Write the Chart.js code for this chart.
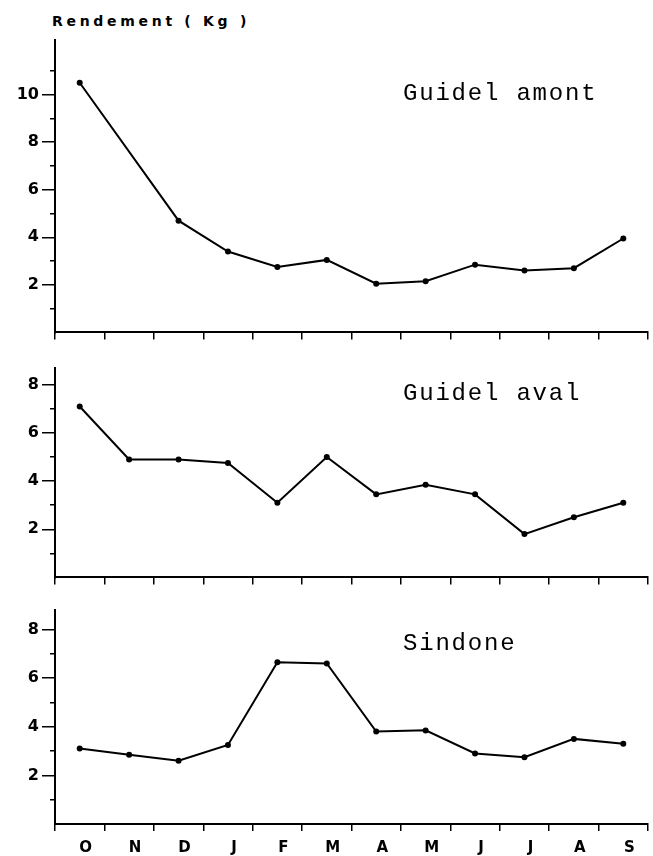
<!DOCTYPE html>
<html><head><meta charset="utf-8">
<script src="https://cdn.jsdelivr.net/npm/chart.js@4"></script>
<style>
body{margin:0;background:#fff;width:653px;height:856px;position:relative;overflow:hidden}
canvas{position:absolute;left:0}
.lbl{position:absolute;left:403px;font-family:"Courier New","Liberation Mono",monospace;font-size:24px;letter-spacing:1.8px;color:#000;white-space:nowrap;line-height:1}
#ylab{position:absolute;left:52px;top:14px;font-family:"DejaVu Sans",sans-serif;font-weight:bold;font-size:14px;letter-spacing:3.7px;line-height:1;color:#000;white-space:nowrap}
</style></head><body>
<div id="ylab">Rendement ( Kg )</div>
<canvas id="c1" width="653" height="345" style="top:0px;width:653px;height:345px"></canvas>
<canvas id="c2" width="653" height="240" style="top:350px;width:653px;height:240px"></canvas>
<canvas id="c3" width="653" height="261" style="top:595px;width:653px;height:261px"></canvas>
<div class="lbl" style="top:82px">Guidel amont</div>
<div class="lbl" style="top:382px">Guidel aval</div>
<div class="lbl" style="top:632px">Sindone</div>
<script>
const months = ['O','N','D','J','F','M','A','M','J','J','A','S'];
const guidelAmont = [10.5, null, 4.7, 3.4, 2.75, 3.05, 2.05, 2.15, 2.85, 2.6, 2.7, 3.95];
const guidelAval = [7.1, 4.9, 4.9, 4.75, 3.1, 5.0, 3.45, 3.85, 3.45, 1.8, 2.5, 3.1];
const sindone = [3.1, 2.85, 2.6, 3.25, 6.65, 6.6, 3.8, 3.85, 2.9, 2.75, 3.5, 3.3];
const majorTicksTop = [2, 4, 6, 8, 10];
const minorTicksTop = [1, 3, 5, 7, 9, 11];
const majorTicks = [2, 4, 6, 8];
const minorTicks = [1, 3, 5, 7];

const tickFont = {family: '"DejaVu Sans", sans-serif', weight: 'bold', size: 16};

function makeChart(id, data, yMax, major, minor, showX, padTop, xHeight) {
  new Chart(document.getElementById(id), {
    type: 'line',
    data: {
      labels: months,
      datasets: [{
        data: data,
        borderColor: '#000',
        borderWidth: 2,
        pointRadius: 3,
        pointBackgroundColor: '#000',
        pointBorderColor: '#000',
        pointBorderWidth: 0,
        tension: 0,
        spanGaps: true
      }]
    },
    options: {
      responsive: false,
      animation: false,
      layout: {padding: {top: padTop, left: 0, right: 5, bottom: 0}},
      plugins: {legend: {display: false}, tooltip: {enabled: false}},
      scales: {
        x: {
          type: 'category',
          offset: true,
          grid: {display: true, drawOnChartArea: false, drawTicks: true, tickLength: 7, color: '#000', lineWidth: 1.5, offset: true},
          border: {display: true, color: '#000', width: 2},
          ticks: {display: showX, color: '#000', font: {family: '"DejaVu Sans", sans-serif', weight: 'bold', size: 15}, padding: 8, labelOffset: 6, maxRotation: 0, autoSkip: false},
          afterFit: s => { s.height = xHeight; }
        },
        y: {
          min: 0, max: yMax,
          weight: 1,
          position: 'left',
          grid: {display: true, drawOnChartArea: false, drawTicks: true, tickLength: 13, color: '#000', lineWidth: 1.5},
          border: {display: true, color: '#000', width: 2},
          ticks: {color: '#000', font: tickFont, padding: 3, callback: v => String(v)},
          afterBuildTicks: s => { s.ticks = major.map(v => ({value: v})); },
          afterFit: s => { s.width = 55; }
        },
        yMinor: {
          min: 0, max: yMax,
          weight: 0,
          position: 'left',
          grid: {display: true, drawOnChartArea: false, drawTicks: true, tickLength: 5, color: '#000', lineWidth: 1.5},
          border: {display: false},
          ticks: {display: false},
          afterBuildTicks: s => { s.ticks = minor.map(v => ({value: v})); },
          afterFit: s => { s.width = 0; }
        }
      }
    }
  });
}

makeChart('c1', guidelAmont, 12.3, majorTicksTop, minorTicksTop, false, 40, 10);
makeChart('c2', guidelAval, 8.7, majorTicks, minorTicks, false, 18, 10);
makeChart('c3', sindone, 8.8, majorTicks, minorTicks, true, 15, 32);
</script>
</body></html>
